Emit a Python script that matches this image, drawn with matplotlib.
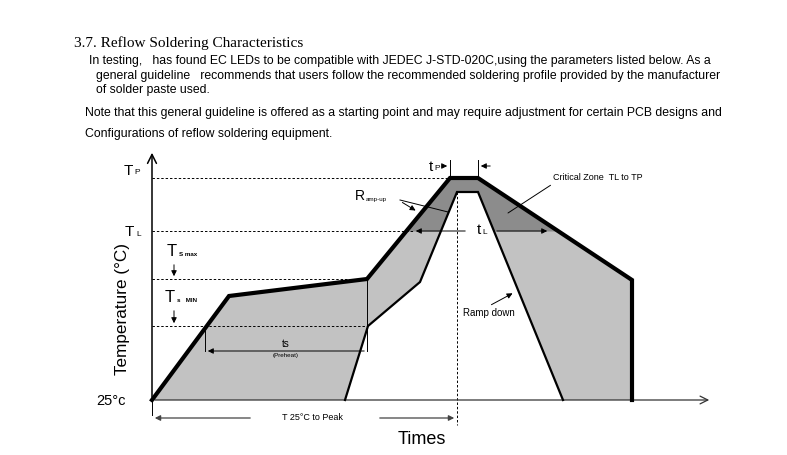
import matplotlib
matplotlib.use("Agg")
import matplotlib.pyplot as plt
import numpy as np

# diagram units: x = time from the y-axis, y = temperature above 25°C line
T_PEAK = 222
T_LIQ = 169
TS_MAX = 121
TS_MIN = 74

# upper (max) profile and lower (min) profile
outer_t = [0, 77, 215, 298, 326, 480, 480]
outer_temp = [0, 104, 121, 222, 222, 120, 0]
inner_t = [193, 216, 268, 305, 326, 411]
inner_temp = [0, 74, 118, 208, 208, 0]

TP_SPAN = (298, 326)
TL_SPAN = (261, 398)
TS_SPAN = (53, 215)
PEAK_T = 305
X_END = 560
Y_END = 250

TITLE = "3.7. Reflow Soldering Characteristics"
BODY = [
    ("In testing,   has found EC LEDs to be compatible with JEDEC J-STD-020C,using the parameters listed below. As a", 89, 61),
    ("general guideline   recommends that users follow the recommended soldering profile provided by the manufacturer", 96, 76),
    ("of solder paste used.", 96, 90),
    ("Note that this general guideline is offered as a starting point and may require adjustment for certain PCB designs and", 85, 113),
    ("Configurations of reflow soldering equipment.", 85, 134),
]

LIGHT = "#c2c2c2"
DARK = "#8c8c8c"
SANS = ["Liberation Sans Narrow", "Liberation Sans", "DejaVu Sans"]
ARIAL = ["Liberation Sans", "DejaVu Sans"]

W, H = 787, 455
fig = plt.figure(figsize=(W / 100, H / 100), dpi=100)
ax = fig.add_axes([0, 0, 1, 1])
ax.set_xlim(-152, W - 152)
ax.set_ylim(400 - H, 400)
ax.axis("off")

# ── header text ──────────────────────────────────────────────────────────────
fig.text(74 / W, 1 - 43 / H, TITLE, family=["Liberation Serif"], fontsize=11, va="center")
for line, px, py in BODY:
    fig.text(px / W, 1 - py / H, line, family=SANS, fontsize=8.8, va="center")

# ── fills ────────────────────────────────────────────────────────────────────
ax.fill(outer_t, outer_temp, color=LIGHT, lw=0)
ts = np.linspace(200, 420, 1000)
top = np.interp(ts, outer_t[:-1], outer_temp[:-1])
ax.fill_between(ts, T_LIQ, top, where=top >= T_LIQ, color=DARK, lw=0, interpolate=True)
ax.fill(inner_t, inner_temp, color="white", lw=0)

# ── dashed reference levels ─────────────────────────────────────────────────
dash = dict(color="black", lw=0.7, ls=(0, (2.5, 2)))
ax.plot([0, TP_SPAN[0]], [T_PEAK, T_PEAK], **dash)
ax.plot([0, TL_SPAN[0]], [T_LIQ, T_LIQ], **dash)
ax.plot([0, TS_SPAN[1]], [TS_MAX, TS_MAX], **dash)
ax.plot([0, TS_SPAN[1]], [TS_MIN, TS_MIN], **dash)
ax.plot([PEAK_T, PEAK_T], [inner_temp[3], -25], **dash)

# ── profiles ─────────────────────────────────────────────────────────────────
ax.plot(outer_t, outer_temp, color="black", lw=3, solid_joinstyle="miter", zorder=5)
ax.plot(inner_t, inner_temp, color="black", lw=1.6, solid_joinstyle="miter", zorder=5)

# ── axes ─────────────────────────────────────────────────────────────────────
ax.annotate("", xy=(0, Y_END), xytext=(0, 0),
            arrowprops=dict(arrowstyle="->", lw=1.1, color="black", mutation_scale=16))
ax.annotate("", xy=(X_END, 0), xytext=(0, 0),
            arrowprops=dict(arrowstyle="->", lw=0.9, color="#333333", mutation_scale=14))

small_arrow = dict(arrowstyle="-|>", lw=0.7, color="black", mutation_scale=8)

# tP bracket
for t in TP_SPAN:
    ax.plot([t, t], [T_PEAK, 240], color="black", lw=0.7)
ax.annotate("", xy=(TP_SPAN[0], 234), xytext=(TP_SPAN[0] - 8, 234), arrowprops=small_arrow)
ax.annotate("", xy=(TP_SPAN[1], 234), xytext=(TP_SPAN[1] + 15, 234), arrowprops=small_arrow)
ax.text(281, 233, "t", family=ARIAL, fontsize=11, ha="right", va="center")
ax.text(282, 231, "P", family=ARIAL, fontsize=6, ha="left", va="center")

# tL span
ax.annotate("", xy=(TL_SPAN[0], T_LIQ), xytext=(316, T_LIQ), arrowprops=small_arrow)
ax.annotate("", xy=(TL_SPAN[1], T_LIQ), xytext=(342, T_LIQ), arrowprops=small_arrow)
ax.text(329, 170, "t", family=ARIAL, fontsize=11, ha="right", va="center")
ax.text(330, 167, "L", family=ARIAL, fontsize=6, ha="left", va="center")

# ts preheat bracket
ax.plot([TS_SPAN[0], TS_SPAN[0]], [TS_MIN, 49], color="black", lw=0.7)
ax.plot([TS_SPAN[1], TS_SPAN[1]], [TS_MAX, 49], color="black", lw=0.7)
ax.annotate("", xy=(TS_SPAN[0], 49), xytext=(TS_SPAN[1], 49), arrowprops=small_arrow)
ax.text(134, 56, "ts", family=ARIAL, fontsize=7, ha="center", va="center")
ax.text(134, 44, "(Preheat)", family=ARIAL, fontsize=4.5, ha="center", va="center")

# Ts max / Ts min markers
ax.text(15, 148, "T", family=ARIAL, fontsize=12, va="center")
ax.text(27, 146, "S max", family=ARIAL, fontsize=4.5, weight="bold", va="center")
ax.annotate("", xy=(22, TS_MAX), xytext=(22, 138), arrowprops=small_arrow)
ax.text(13, 102, "T", family=ARIAL, fontsize=12, va="center")
ax.text(25, 99, "s   MIN", family=ARIAL, fontsize=4.5, weight="bold", va="center")
ax.annotate("", xy=(22, TS_MIN), xytext=(22, 92), arrowprops=small_arrow)

# level labels on the y-axis
ax.text(-19, 229, "T", family=ARIAL, fontsize=11, ha="right", va="center")
ax.text(-18, 227, "P", family=ARIAL, fontsize=6, ha="left", va="center")
ax.text(-18, 168, "T", family=ARIAL, fontsize=11, ha="right", va="center")
ax.text(-16, 166, "L", family=ARIAL, fontsize=6, ha="left", va="center")
ax.text(-26, -1, "25°c", family=ARIAL, fontsize=10.5, ha="right", va="center")

# 25°C to peak
ax.annotate("", xy=(0, -18), xytext=(101, -18),
            arrowprops=dict(arrowstyle="-|>", lw=0.9, color="#444444", mutation_scale=8))
ax.annotate("", xy=(PEAK_T, -18), xytext=(225, -18),
            arrowprops=dict(arrowstyle="-|>", lw=0.9, color="#444444", mutation_scale=8))
ax.plot([0, 0], [0, -15], color="black", lw=0.7)
ax.text(160, -18, "T 25°C to Peak", family=ARIAL, fontsize=6.5, ha="center", va="center")

# Ramp-up
ax.text(203, 204, "R", family=ARIAL, fontsize=10, va="center")
ax.text(214, 200, "amp-up", family=ARIAL, fontsize=4.5, va="center")
ax.annotate("", xy=(266, 188), xytext=(248, 199), arrowprops=small_arrow)
ax.plot([248, 296], [200, 188], color="black", lw=0.7)

# Critical zone
ax.annotate("Critical Zone  TL to TP", xy=(356, 187), xytext=(401, 222), family=ARIAL,
            fontsize=6.5, va="center",
            arrowprops=dict(arrowstyle="-", lw=0.7, color="black",
                            shrinkA=0, shrinkB=0, relpos=(0.02, 0)))

# Ramp down
ax.text(311, 87, "Ramp down", family=ARIAL, fontsize=7, va="center")
ax.annotate("", xy=(363, 108), xytext=(337, 94), arrowprops=small_arrow)

# axis titles
ax.text(-30, 91, "Temperature (°C)", family=ARIAL, fontsize=12.3, rotation=90, ha="center", va="center")
ax.text(270, -40, "Times", family=ARIAL, fontsize=13, ha="center", va="center")

fig.savefig("out.png", dpi=100)
